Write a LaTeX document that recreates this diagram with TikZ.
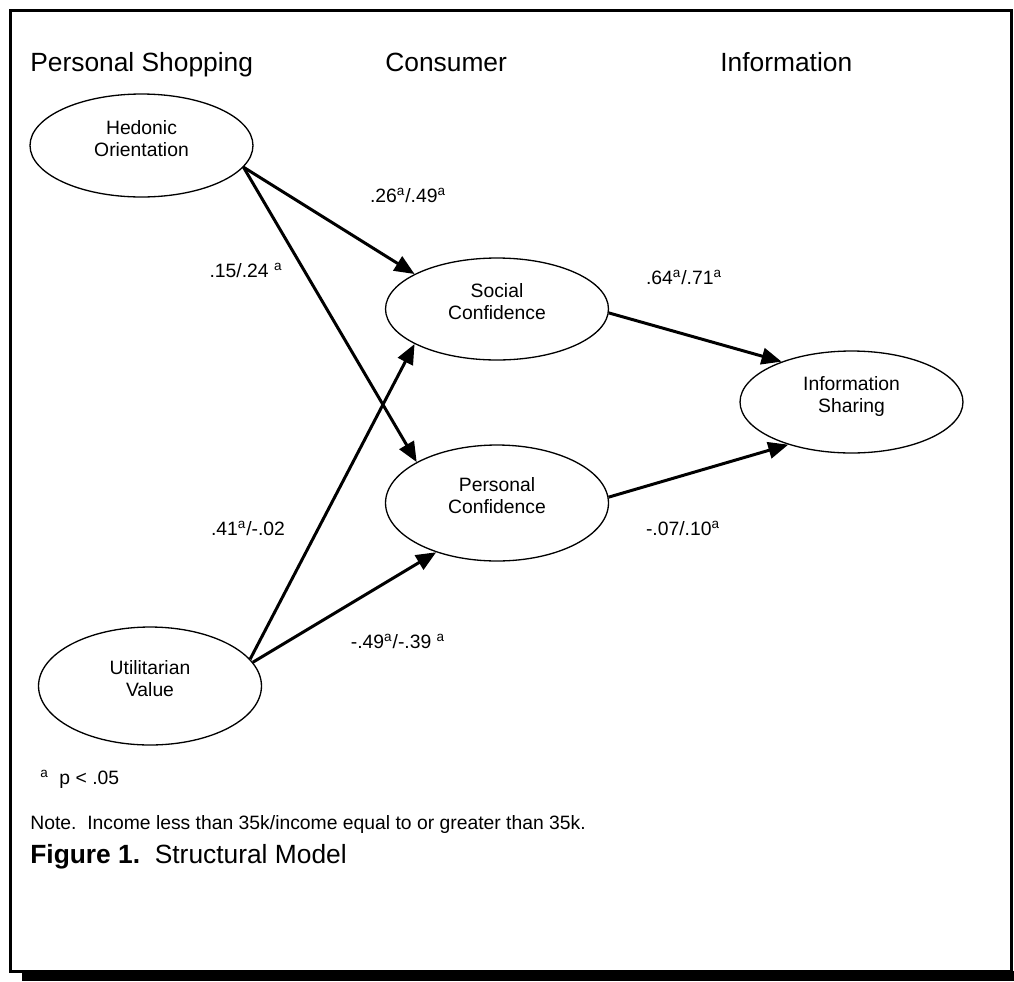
\documentclass[tikz,border=0pt]{standalone}
\usepackage{fontspec}
\setmainfont{Liberation Sans}
\usetikzlibrary{shapes.geometric,arrows.meta}
\tikzset{
	latent/.style={ellipse, draw, line width=0.75pt, inner sep=0pt, minimum width=4.46cm, font=\fontsize{11}{12.5}\selectfont},
	effect/.style={line width=1.7pt, -{Triangle[length=0.4cm, width=0.33cm]}},
	coef/.style={font=\fontsize{11}{13}\selectfont},
	note/.style={coef, anchor=base west, inner sep=0pt},
	head/.style={anchor=base west, inner sep=0pt, font=\fontsize{15}{18}\selectfont}
}
\newcommand{\sig}{\textsuperscript{a}}
% two-line label, set a little above the centre of its ellipse
\newcommand{\lvtext}[2]{\raisebox{0pt}[\height][\dimexpr\depth+5.5pt\relax]{\begin{tabular}{@{}c@{}}#1\\#2\end{tabular}}}

\begin{document}
\begin{tikzpicture}[x=0.02cm, y=-0.02cm]
			%%%%% START %%%%%
			\useasboundingbox (0, 0) rectangle (1014, 981);
			
			% frame and shadow
			\draw[line width=1.7pt] (10.5, 10.5) rectangle (1011.5, 971);
			\fill[black] (22, 971) rectangle (1014, 981);
			
			% column heads
			\node[head] (hPersonal) at (30, 71) {Personal Shopping};
			\node[head] (hConsumer) at (385, 71) {Consumer};
			\node[head] (hInfo) at (720, 71) {Information};
			
			% constructs
			\node[latent, minimum height=2.06cm] (ho) at (141.5, 145.5) {\lvtext{Hedonic}{Orientation}};
			\node[latent, minimum height=2.36cm] (uv) at (150, 686) {\lvtext{Utilitarian}{Value}};
			\node[latent, minimum height=2.04cm] (sc) at (497, 309) {\lvtext{Social}{Confidence}};
			\node[latent, minimum height=2.32cm] (pc) at (497, 503) {\lvtext{Personal}{Confidence}};
			\node[latent, minimum height=2.04cm] (is) at (851.5, 402) {\lvtext{Information}{Sharing}};
			
			% paths
			\draw[effect] (ho.-12) -- (sc.157);
			\draw[effect] (ho.-12) -- (pc.153);
			\draw[effect] (uv.15) -- (sc.203);
			\draw[effect] (uv.13) -- (pc.219);
			\draw[effect] (sc.-2) -- (is.150);
			\draw[effect] (pc.3) -- (is.214);
			
			% coefficients
			\node[coef] (cHoSc) at (408, 195) {.26\sig/.49\sig};
			\node[coef] (cHoPc) at (246, 270) {.15/.24 \sig};
			\node[coef] (cUvSc) at (248, 528) {.41\sig/-.02};
			\node[coef] (cUvPc) at (398, 641) {-.49\sig/-.39 \sig};
			\node[coef] (cScIs) at (684, 277) {.64\sig/.71\sig};
			\node[coef] (cPcIs) at (683, 528) {-.07/.10\sig};
			
			% notes
			\node[note] (pNote) at (40, 784) {\sig~~p < .05};
			\node[note] (incNote) at (30, 829) {Note.~~Income less than 35k/income equal to or greater than 35k.};
			\node[head] (caption) at (30, 863) {\textbf{Figure 1.}~~Structural Model};
			
			%%%%% END %%%%%
		\end{tikzpicture}
\end{document}
